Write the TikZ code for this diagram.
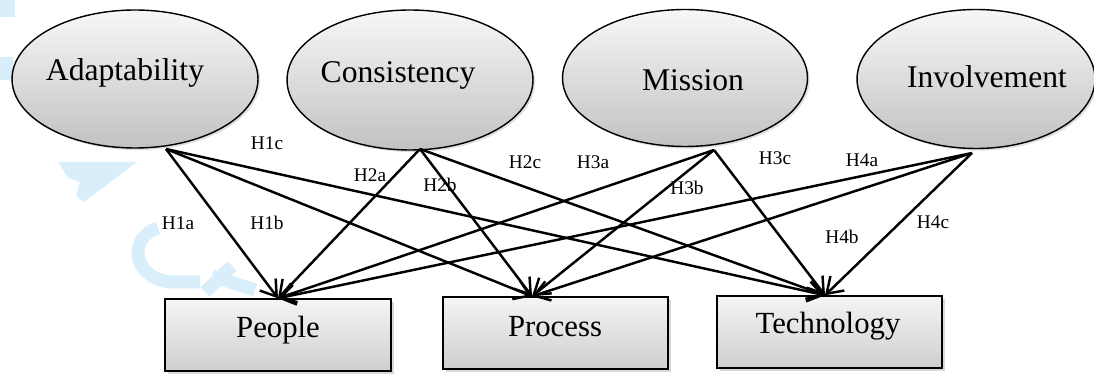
\documentclass[tikz,border=0pt]{standalone}
\usepackage{fontspec}
\setmainfont{Liberation Serif}
\usetikzlibrary{shapes.geometric,arrows.meta,shadows}
\definecolor{wmblue}{RGB}{216,239,251}
\begin{document}
\begin{tikzpicture}[x=0.02cm,y=-0.02cm,
  ell/.style={ellipse,draw,line width=0.8pt,top color=gray!6,bottom color=gray!48,inner sep=0pt,
    drop shadow={shadow xshift=1.2pt,shadow yshift=-1.2pt,opacity=0.25}},
  box/.style={rectangle,draw,line width=0.8pt,top color=gray!8,bottom color=gray!38,inner sep=0pt,
    drop shadow={shadow xshift=1.5pt,shadow yshift=-1.5pt,opacity=0.3}},
  big/.style={font=\fontsize{18}{20}\selectfont,inner sep=0pt},
  boxtxt/.style={font=\fontsize{17.5}{20}\selectfont,inner sep=0pt},
  hyp/.style={font=\fontsize{11}{12}\selectfont,inner sep=0pt},
  arr/.style={line width=1.4pt,-{Straight Barb[length=3mm,width=4mm,line width=1.4pt]}},
  wm/.style={fill=wmblue,draw=none},
  wml/.style={draw=wmblue,line width=0.26cm}]
\useasboundingbox (0,0) rectangle (1094,374);

% faint watermark
\fill[wm] (0,0) rectangle (15,17);
\fill[wm] (0,57) rectangle (13,80);
\fill[wm] (58,162) -- (137,162) -- (84,202) -- (76,196) -- (80,182) -- (68,178) -- cycle;
\draw[wml] (158,228) .. controls (130,236) and (130,275) .. (168,282) -- (200,282);
\draw[wml] (205,292) -- (232,266);
\draw[wml] (212,276) -- (255,290);

% ellipses
\node[ell,minimum width=4.92cm,minimum height=2.76cm] (A) at (135,79) {};
\node[ell,minimum width=4.92cm,minimum height=2.8cm] (C) at (410,80) {};
\node[ell,minimum width=4.9cm,minimum height=2.74cm] (M) at (685,78) {};
\node[ell,minimum width=4.76cm,minimum height=2.78cm] (I) at (976,79) {};
\node[big] (tA) at (125,73) {Adaptability};
\node[big] (tC) at (398,75) {Consistency};
\node[big] (tM) at (693,80) {Mission};
\node[big] (tI) at (987,77) {Involvement};

% boxes
\node[box,minimum width=4.52cm,minimum height=1.44cm] (P) at (278,335) {};
\node[box,minimum width=4.5cm,minimum height=1.44cm] (R) at (555.5,333) {};
\node[box,minimum width=4.5cm,minimum height=1.44cm] (T) at (829.5,332) {};
\node[boxtxt] (tP) at (278,330) {People};
\node[boxtxt] (tR) at (555,327) {Process};
\node[boxtxt] (tT) at (828,326) {Technology};

% arrow ends
\coordinate (As) at (166,149);
\coordinate (Cs) at (420,149);
\coordinate (Ms) at (714,150);
\coordinate (Is) at (972,153);
\coordinate (Pt) at (P.north);
\coordinate (Rt) at ([xshift=-0.47cm]R.north);
\coordinate (Tt) at ([xshift=-0.09cm]T.north);

\foreach \s in {As,Cs,Ms,Is}{
  \foreach \t in {Pt,Rt,Tt}{
    \draw[arr] (\s) -- (\t);
  }
}

% hypothesis labels
\node[hyp] (h1c) at (267,143) {H1c};
\node[hyp] (h1a) at (178,223) {H1a};
\node[hyp] (h1b) at (267,223) {H1b};
\node[hyp] (h2a) at (370,175) {H2a};
\node[hyp] (h2b) at (440,185) {H2b};
\node[hyp] (h2c) at (525,162) {H2c};
\node[hyp] (h3a) at (593,162) {H3a};
\node[hyp] (h3b) at (687,188) {H3b};
\node[hyp] (h3c) at (775,158) {H3c};
\node[hyp] (h4a) at (862,160) {H4a};
\node[hyp] (h4b) at (842,237) {H4b};
\node[hyp] (h4c) at (933,222) {H4c};
\end{tikzpicture}
\end{document}
